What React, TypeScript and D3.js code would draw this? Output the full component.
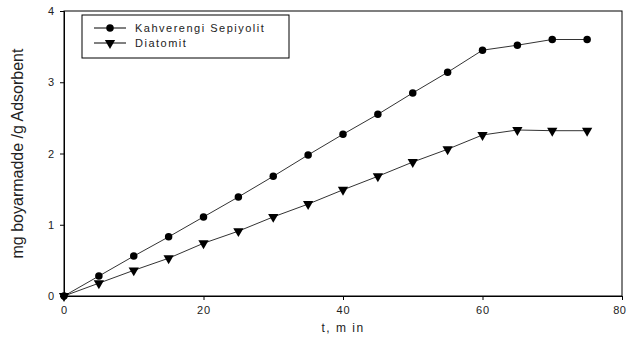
import React, { useEffect, useRef } from 'react';
import * as d3 from 'd3';

// Data
const times = [0, 5, 10, 15, 20, 25, 30, 35, 40, 45, 50, 55, 60, 65, 70, 75];
const sepiyolit = [0, 0.28, 0.56, 0.83, 1.11, 1.39, 1.68, 1.98, 2.27, 2.55, 2.85, 3.14, 3.45, 3.52, 3.6, 3.6];
const diatomit = [0, 0.18, 0.36, 0.53, 0.74, 0.91, 1.11, 1.29, 1.49, 1.68, 1.88, 2.06, 2.26, 2.33, 2.32, 2.32];
const seriesNames = ['Kahverengi Sepiyolit', 'Diatomit'];
const xTicks = [0, 20, 40, 60, 80];
const yTicks = [0, 1, 2, 3, 4];

const W = 628;
const H = 343;
const margin = { top: 11, right: 6, bottom: 47, left: 64 };

export default function App() {
  const svgRef = useRef<SVGSVGElement>(null);

  useEffect(() => {
    const svg = d3.select(svgRef.current);
    svg.selectAll('*').remove();

    const x = d3.scaleLinear().domain([0, 80]).range([margin.left, W - margin.right]);
    const y = d3.scaleLinear().domain([0, 4]).range([H - margin.bottom, margin.top]);
    const font = 'Arial, "Liberation Sans", sans-serif';

    // frame
    svg.append('rect')
      .attr('x', x(0)).attr('y', y(4))
      .attr('width', x(80) - x(0)).attr('height', y(0) - y(4))
      .attr('fill', 'none').attr('stroke', '#000').attr('stroke-width', 1);

    // x axis
    const xAxis = svg.append('g')
      .attr('transform', `translate(0,${y(0)})`)
      .call(d3.axisBottom(x).tickValues(xTicks).tickSize(4).tickPadding(6).tickFormat(d3.format('d')));
    xAxis.select('.domain').attr('stroke', '#000');
    xAxis.selectAll('text')
      .attr('font-family', font).attr('font-size', 11).attr('fill', '#222')
      .attr('letter-spacing', 1);
    // keep the last label inside the window
    xAxis.selectAll<SVGTextElement, number>('text').filter(d => d === 80)
      .attr('text-anchor', 'end').attr('letter-spacing', 0.5).attr('dx', 4);

    // y axis
    const yAxis = svg.append('g')
      .attr('transform', `translate(${x(0)},0)`)
      .call(d3.axisLeft(y).tickValues(yTicks).tickSize(4).tickPadding(6).tickFormat(d3.format('d')));
    yAxis.select('.domain').attr('stroke', '#000');
    yAxis.selectAll('text')
      .attr('font-family', font).attr('font-size', 11).attr('fill', '#222');

    // axis titles
    svg.append('text')
      .attr('x', (x(0) + x(80)) / 2).attr('y', 332)
      .attr('text-anchor', 'middle')
      .attr('font-family', font).attr('font-size', 12).attr('letter-spacing', 1.5)
      .attr('fill', '#222')
      .text('t, m in');

    svg.append('text')
      .attr('transform', `translate(23,${(y(0) + y(4)) / 2}) rotate(-90)`)
      .attr('text-anchor', 'middle')
      .attr('font-family', font).attr('font-size', 16)
      .attr('fill', '#222')
      .text('mg boyarmadde /g Adsorbent');

    const line = d3.line<number>()
      .x((_, i) => x(times[i]))
      .y(d => y(d));

    const circle = d3.symbol().type(d3.symbolCircle).size(44);
    const tri = d3.symbol().type(d3.symbolTriangle).size(46);

    const drawSeries = (vals: number[], shape: 'circle' | 'tri') => {
      svg.append('path')
        .datum(vals)
        .attr('d', line)
        .attr('fill', 'none')
        .attr('stroke', '#333')
        .attr('stroke-width', 1);
      svg.selectAll(null)
        .data(vals)
        .enter()
        .append('path')
        .attr('d', shape === 'circle' ? circle : tri)
        .attr('transform', (d, i) => `translate(${x(times[i])},${y(d)})${shape === 'tri' ? ' rotate(180)' : ''}`)
        .attr('fill', '#000');
    };

    drawSeries(sepiyolit, 'circle');
    drawSeries(diatomit, 'tri');

    // legend
    const lg = svg.append('g').attr('transform', 'translate(82,15)');
    lg.append('rect')
      .attr('width', 207).attr('height', 43)
      .attr('fill', '#fff').attr('stroke', '#000').attr('stroke-width', 1);
    seriesNames.forEach((name, i) => {
      const ly = 13 + i * 15;
      lg.append('line')
        .attr('x1', 12).attr('x2', 44).attr('y1', ly).attr('y2', ly)
        .attr('stroke', '#000').attr('stroke-width', 1);
      lg.append('path')
        .attr('d', i === 0 ? circle : tri)
        .attr('transform', `translate(28,${ly})${i === 1 ? ' rotate(180)' : ''}`)
        .attr('fill', '#000');
      lg.append('text')
        .attr('x', 53).attr('y', ly + 4)
        .attr('font-family', font).attr('font-size', 11).attr('letter-spacing', 1.5)
        .attr('fill', '#222')
        .text(name);
    });
  }, []);

  return (
    <svg
      ref={svgRef}
      width={W}
      height={H}
      style={{ position: 'fixed', left: 0, top: 0, display: 'block', background: '#fff' }}
    />
  );
}
